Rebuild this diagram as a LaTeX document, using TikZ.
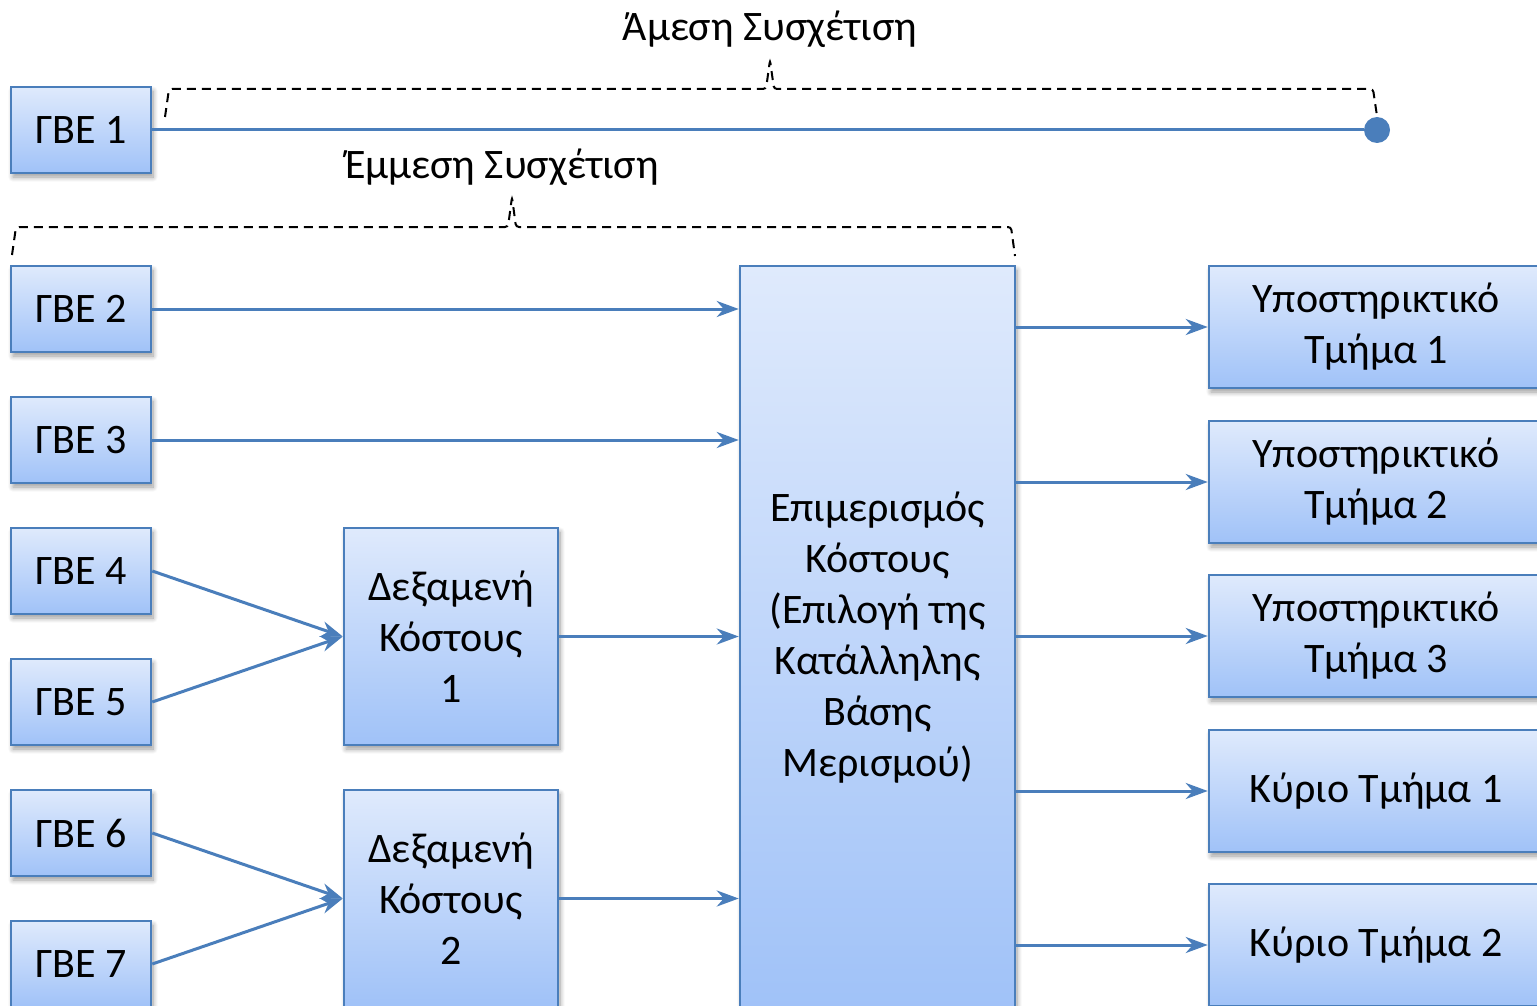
\documentclass[tikz,border=0pt]{standalone}
\usepackage{fontspec}
\setmainfont{Carlito}
\usetikzlibrary{arrows.meta,shadows,shadows.blur}
\definecolor{bord}{RGB}{74,126,187}
\definecolor{ftop}{RGB}{223,234,252}
\definecolor{fbot}{RGB}{160,194,248}
\tikzset{
  box/.style={draw=bord, line width=2.5pt, top color=ftop, bottom color=fbot,
    blur shadow={shadow xshift=2pt, shadow yshift=-4pt, shadow blur radius=5pt, shadow opacity=40, shadow blur steps=8},
    align=center, inner sep=0pt, font=\fontsize{42}{51}\selectfont},
  gbe/.style={box, minimum width=140pt, minimum height=86pt},
  pool/.style={box, minimum width=214pt, minimum height=217pt},
  dept/.style={box, minimum width=334pt, minimum height=122pt},
  arr/.style={draw=bord, line width=3pt, -{Stealth[length=22pt,width=16pt,inset=7pt]}},
  bracepath/.style={draw=black, line width=2pt, dash pattern=on 9pt off 6pt, rounded corners=3pt},
  lbl/.style={font=\fontsize{42}{51}\selectfont, inner sep=0pt},
}
\begin{document}
\begin{tikzpicture}[x=1pt,y=-1pt]
\useasboundingbox (0,0) rectangle (1537,1006);
\clip (0,0) rectangle (1537,1006);
% left sources
\node[gbe] (g1) at (81,130) {ΓΒΕ 1};
\node[gbe] (g2) at (81,309) {ΓΒΕ 2};
\node[gbe] (g3) at (81,440) {ΓΒΕ 3};
\node[gbe] (g4) at (81,571) {ΓΒΕ 4};
\node[gbe] (g5) at (81,702) {ΓΒΕ 5};
\node[gbe] (g6) at (81,833) {ΓΒΕ 6};
\node[gbe] (g7) at (81,964) {ΓΒΕ 7};
% pools
\node[pool] (d1) at (451,636.5) {Δεξαμενή\\Κόστους\\1};
\node[pool] (d2) at (451,898.5) {Δεξαμενή\\Κόστους\\2};
% big box
\node[box, minimum width=275pt, minimum height=744pt] (big) at (877.5,638) {Επιμερισμός\\Κόστους\\(Επιλογή της\\Κατάλληλης\\Βάσης\\Μερισμού)};
% departments
\node[dept] (r1) at (1376,327) {Υποστηρικτικό\\Τμήμα 1};
\node[dept] (r2) at (1376,482) {Υποστηρικτικό\\Τμήμα 2};
\node[dept] (r3) at (1376,636) {Υποστηρικτικό\\Τμήμα 3};
\node[dept] (r4) at (1376,791) {Κύριο Τμήμα 1};
\node[dept] (r5) at (1376,945) {Κύριο Τμήμα 2};
% direct link
\node[circle, fill=bord, minimum size=26pt, inner sep=0pt] (dot) at (1377,130) {};
\draw[draw=bord, line width=3pt] (g1.east) -- (dot.west);
% arrows
\draw[arr] (g2.east) -- (g2.east -| big.west);
\draw[arr] (g3.east) -- (g3.east -| big.west);
\draw[arr] (g4.east) -- (d1.west);
\draw[arr] (g5.east) -- (d1.west);
\draw[arr] (g6.east) -- (d2.west);
\draw[arr] (g7.east) -- (d2.west);
\draw[arr] (d1.east) -- (d1.east -| big.west);
\draw[arr] (d2.east) -- (d2.east -| big.west);
\draw[arr] (big.east |- r1.west) -- (r1.west);
\draw[arr] (big.east |- r2.west) -- (r2.west);
\draw[arr] (big.east |- r3.west) -- (r3.west);
\draw[arr] (big.east |- r4.west) -- (r4.west);
\draw[arr] (big.east |- r5.west) -- (r5.west);
% braces
\coordinate (b1a) at (165,117);
\coordinate (b1t) at (770,60);
\coordinate (b1b) at (1377,116);
\draw[bracepath] (b1a) -- (169,89) -- (766,89) -- (b1t) -- (774,89) -- (1373,89) -- (b1b);
\node[lbl] (l1) at (770,29) {Άμεση Συσχέτιση};
\coordinate (b2a) at (12,255);
\coordinate (b2t) at (512,197);
\coordinate (b2b) at (1015,256);
\draw[bracepath] (b2a) -- (16,227) -- (508,227) -- (b2t) -- (516,227) -- (1011,227) -- (b2b);
\node[lbl] (l2) at (502,167) {Έμμεση Συσχέτιση};
\end{tikzpicture}
\end{document}
